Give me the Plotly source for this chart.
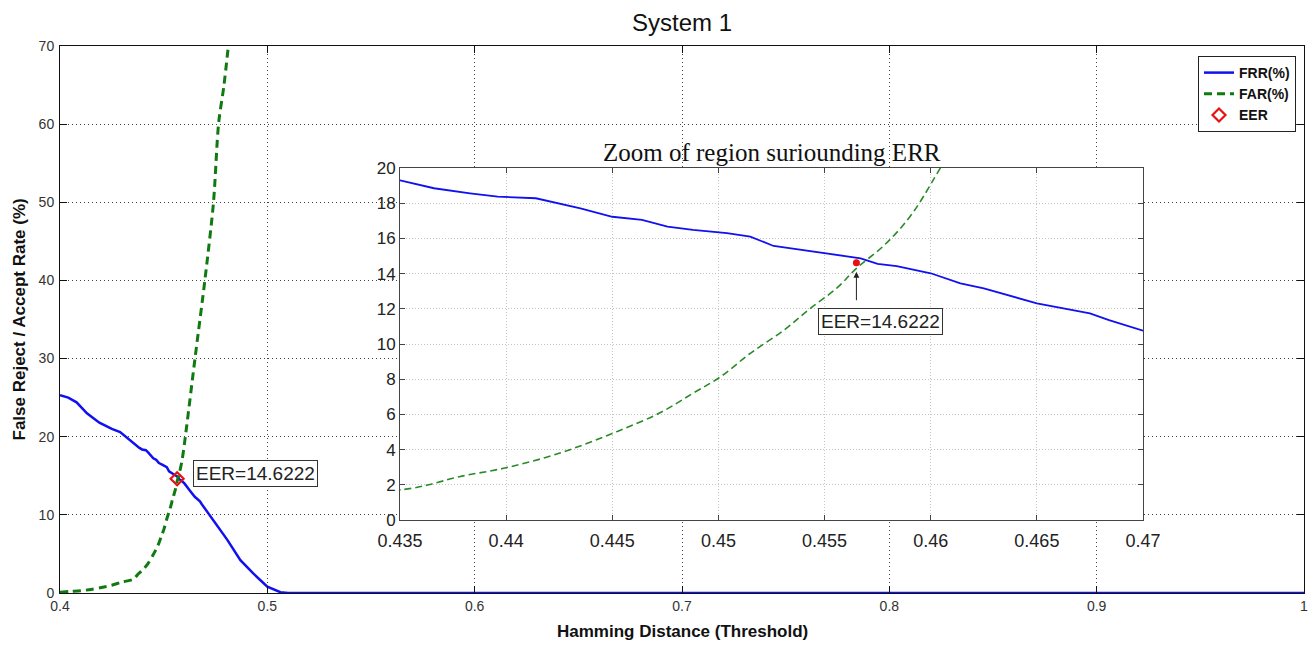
import plotly.graph_objects as go

# ---- data ----
frr_x = [0.400, 0.404, 0.408, 0.413, 0.419, 0.425, 0.429, 0.435, 0.4366, 0.4383, 0.4396, 0.4414,
         0.4425, 0.4435, 0.4450, 0.4464, 0.4476, 0.4488, 0.4504, 0.4515, 0.4526, 0.4551, 0.4567,
         0.4575, 0.4584, 0.4600, 0.4614, 0.4625, 0.4650, 0.4675, 0.4684, 0.4700, 0.474, 0.4807,
         0.487, 0.4932, 0.500, 0.5063, 0.510, 1.0]
frr_y = [25.3, 25.0, 24.4, 23.0, 21.8, 21.0, 20.6, 19.3, 18.85, 18.56, 18.37, 18.28,
         17.99, 17.71, 17.23, 17.05, 16.67, 16.48, 16.3, 16.1, 15.57, 15.15, 14.87,
         14.55, 14.43, 14.02, 13.45, 13.16, 12.31, 11.74, 11.36, 10.76, 9.3, 6.8,
         4.2, 2.5, 0.8, 0.1, 0.0, 0.0]

far_x = [0.400, 0.405, 0.410, 0.415, 0.420, 0.425, 0.430, 0.4352, 0.4363, 0.4378, 0.4400, 0.4425,
         0.4450, 0.4472, 0.4488, 0.4501, 0.4515, 0.4531, 0.4543, 0.4556, 0.4565, 0.4578, 0.4590,
         0.4604, 0.4652, 0.4700, 0.4740, 0.4765, 0.4790, 0.4812]
far_y = [0.1, 0.2, 0.3, 0.45, 0.7, 1.0, 1.4, 1.74, 1.99, 2.46, 2.97, 3.79,
         4.92, 6.06, 7.2, 8.14, 9.47, 10.8, 12.0, 13.2, 14.3, 15.6, 17.2,
         19.89, 30.2, 40.3, 49.9, 60.1, 64.8, 70.0]

eer_x = [0.4565]
eer_y = [14.6222]
eer_label = "EER=14.6222"

main_xticks = [0.4, 0.5, 0.6, 0.7, 0.8, 0.9, 1.0]
main_yticks = [0, 10, 20, 30, 40, 50, 60, 70]
inset_xticks = [0.435, 0.44, 0.445, 0.45, 0.455, 0.46, 0.465, 0.47]
inset_yticks = [0, 2, 4, 6, 8, 10, 12, 14, 16, 18, 20]

BLUE = "#1010f0"
GREEN = "#0f7a0f"
RED = "#e81010"
SANS = "Arial, Liberation Sans, sans-serif"

# plot-area geometry in pixels (figure 1316 x 646)
L, R, T, B = 60, 1304, 46, 593
W, H = R - L, B - T


def px(xp):
    return (xp - L) / W


def py(yp):
    return (B - yp) / H


fig = go.Figure()

# main plot
fig.add_trace(go.Scatter(x=frr_x, y=frr_y, mode="lines", name="FRR(%)",
                         line=dict(color=BLUE, width=2.5), xaxis="x", yaxis="y"))
fig.add_trace(go.Scatter(x=far_x, y=far_y, mode="lines", name="FAR(%)",
                         line=dict(color=GREEN, width=3, dash="8px,5px", shape="spline", smoothing=0.8),
                         xaxis="x", yaxis="y"))
fig.add_trace(go.Scatter(x=eer_x, y=eer_y, mode="markers", name="EER",
                         marker=dict(symbol="diamond-open", color=RED, size=10, line=dict(width=2.2, color=RED)),
                         xaxis="x", yaxis="y"))

# inset
fig.add_trace(go.Scatter(x=frr_x, y=frr_y, mode="lines", showlegend=False,
                         line=dict(color=BLUE, width=1.8), xaxis="x2", yaxis="y2"))
fig.add_trace(go.Scatter(x=far_x, y=far_y, mode="lines", showlegend=False,
                         line=dict(color="#2a8a2a", width=1.6, dash="7px,4px", shape="spline", smoothing=1.0),
                         xaxis="x2", yaxis="y2"))
fig.add_trace(go.Scatter(x=eer_x, y=eer_y, mode="markers", showlegend=False,
                         marker=dict(symbol="circle", color=RED, size=7),
                         xaxis="x2", yaxis="y2"))

grid_main = dict(showgrid=True, gridcolor="#444444", griddash="1px,3px", gridwidth=1.2)
grid_inset = dict(showgrid=True, gridcolor="#c4c4c4", griddash="1px,2px", gridwidth=1)

fig.update_layout(
    width=1316, height=646,
    margin=dict(l=L, r=1316 - R, t=T, b=646 - B, autoexpand=False),
    paper_bgcolor="white", plot_bgcolor="white",
    title=dict(text="System 1", x=0.5, xref="paper", y=1 - 23 / 646, yref="container",
               xanchor="center", yanchor="middle", font=dict(family=SANS, size=24, color="#111111")),
    xaxis=dict(domain=[0, 1], range=[0.4, 1.0], tickvals=main_xticks,
               ticktext=[f"{v:g}" for v in main_xticks], automargin=False,
               showline=True, linecolor="#111111", linewidth=1, mirror="ticks",
               ticks="inside", ticklen=7, tickcolor="#111111",
               tickfont=dict(family=SANS, size=14, color="#333333"),
               zeroline=False, **grid_main),
    yaxis=dict(domain=[0, 1], range=[0, 70], tickvals=main_yticks, automargin=False,
               showline=True, linecolor="#111111", linewidth=1, mirror="ticks",
               ticks="inside", ticklen=7, tickcolor="#111111",
               tickfont=dict(family=SANS, size=14, color="#333333"),
               ticklabelstandoff=2,
               zeroline=False, **grid_main),
    xaxis2=dict(domain=[px(400), px(1143)], range=[0.435, 0.47], automargin=False,
                tickvals=inset_xticks, ticktext=[f"{v:g}" for v in inset_xticks], anchor="y2",
                showline=True, linecolor="#444444", linewidth=1, mirror="ticks",
                ticks="inside", ticklen=5, tickcolor="#444444",
                tickfont=dict(family=SANS, size=18, color="#222222"),
                ticklabelstandoff=4,
                zeroline=False, **grid_inset),
    yaxis2=dict(domain=[py(520), py(168)], range=[0, 20], automargin=False,
                tickvals=inset_yticks, anchor="x2",
                showline=True, linecolor="#444444", linewidth=1, mirror="ticks",
                ticks="inside", ticklen=5, tickcolor="#444444",
                tickfont=dict(family=SANS, size=17, color="#222222"),
                zeroline=False, **grid_inset),
    legend=dict(x=px(1296), xanchor="right", y=py(56), yanchor="top",
                bgcolor="white", bordercolor="#222222", borderwidth=1,
                font=dict(family=SANS, size=14, color="#111111", weight="bold"),
                tracegroupgap=0, itemwidth=30),
    showlegend=True,
)

# axis titles
fig.add_annotation(text="<b>Hamming Distance (Threshold)</b>", xref="paper", yref="paper",
                   x=0.5, y=py(631), xanchor="center", yanchor="middle", showarrow=False,
                   font=dict(family=SANS, size=17, color="#111111"))
fig.add_annotation(text="<b>False Reject / Accept Rate (%)</b>", xref="paper", yref="paper",
                   x=px(19), y=0.5, xanchor="center", yanchor="middle", showarrow=False,
                   textangle=-90, font=dict(family=SANS, size=17, color="#111111"))

fig.add_annotation(text="Zoom of region suriounding ERR", xref="paper", yref="paper",
                   x=px((400 + 1143) / 2), y=py(152),
                   xanchor="center", yanchor="middle", showarrow=False,
                   font=dict(family="Liberation Serif, Times New Roman, serif", size=25, color="#111111"))

# main EER label
fig.add_annotation(text=eer_label, xref="x", yref="y", x=0.4641, y=15.3,
                   xanchor="left", yanchor="middle", showarrow=False,
                   bgcolor="white", bordercolor="#333333", borderwidth=1, borderpad=2,
                   font=dict(family=SANS, size=19, color="#222222"))

# inset EER label with arrow
fig.add_annotation(text=eer_label, xref="x2", yref="y2", x=0.4547, y=11.3,
                   xanchor="left", yanchor="middle", showarrow=False,
                   bgcolor="white", bordercolor="#333333", borderwidth=1, borderpad=2,
                   font=dict(family=SANS, size=19, color="#222222"))
fig.add_annotation(text="", xref="x2", yref="y2", x=eer_x[0], y=14.1,
                   axref="x2", ayref="y2", ax=eer_x[0], ay=12.4,
                   showarrow=True, arrowhead=2, arrowsize=1.2, arrowwidth=1, arrowcolor="#222222",
                   standoff=0, startstandoff=0)

fig.write_html("out.html")
